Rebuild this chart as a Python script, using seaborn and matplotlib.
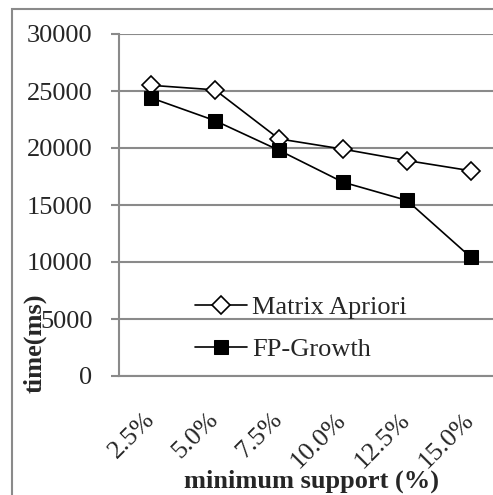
import matplotlib
matplotlib.use("Agg")
import matplotlib.pyplot as plt
import seaborn as sns
import pandas as pd
from matplotlib.patches import Rectangle

categories = ["2.5%", "5.0%", "7.5%", "10.0%", "12.5%", "15.0%"]
matrix_apriori = [25500, 25100, 20800, 19900, 18900, 18000]
fp_growth = [24400, 22400, 19800, 17000, 15400, 10400]
yticks = [0, 5000, 10000, 15000, 20000, 25000, 30000]

sns.set_theme(style="white")
plt.rcParams["font.family"] = ["Liberation Serif", "DejaVu Serif"]

W, H = 493, 495
fig = plt.figure(figsize=(W / 100, H / 100), dpi=100)
ax = fig.add_axes([119 / W, 1 - 376 / H, 384 / W, 342 / H])

grid_c = "#8a8a8a"
fs = 19

df = pd.DataFrame({
    "support": categories * 2,
    "time": matrix_apriori + fp_growth,
    "algo": ["Matrix Apriori"] * 6 + ["FP-Growth"] * 6,
})

sns.lineplot(data=df[df.algo == "Matrix Apriori"], x="support", y="time", ax=ax,
             color="black", lw=1.2, marker="D", markersize=9,
             markerfacecolor="white", markeredgecolor="black", markeredgewidth=1.2,
             label="Matrix Apriori", sort=False)
sns.lineplot(data=df[df.algo == "FP-Growth"], x="support", y="time", ax=ax,
             color="black", lw=1.2, marker="s", markersize=9.5,
             markerfacecolor="black", markeredgecolor="black",
             label="FP-Growth", sort=False)

ax.set_xlim(-0.5, 5.5)
ax.set_ylim(0, 30000)
ax.set_yticks(yticks)
ax.set_yticklabels([str(v) for v in yticks], fontsize=fs)
ax.grid(axis="y", color=grid_c, lw=1.5)
ax.set_axisbelow(True)
for s in ["top", "right"]:
    ax.spines[s].set_visible(False)
for s in ["left", "bottom"]:
    ax.spines[s].set_color(grid_c)
    ax.spines[s].set_linewidth(1.5)
ax.tick_params(axis="y", left=True, length=6, width=1.5, color=grid_c, pad=13)
ax.tick_params(axis="x", bottom=False, length=0, pad=29)
ax.set_xticks(range(len(categories)))
ax.set_xticklabels(categories, fontsize=fs, rotation=45, ha="right",
                   va="center", rotation_mode="anchor")
ax.set_xlabel("minimum support (%)", fontsize=fs, fontweight="bold", labelpad=-2)
ax.set_ylabel("")
fig.text(35 / W, 1 - 343 / H, "time(ms)", rotation=90, fontsize=fs,
         fontweight="bold", ha="center", va="center")

leg = ax.legend(loc="upper left", bbox_to_anchor=(195 / W, 1 - 296 / H),
                bbox_transform=fig.transFigure, frameon=False, fontsize=fs,
                handlelength=1.97, handletextpad=0.2, labelspacing=0.68,
                borderpad=0, borderaxespad=0)

fig.patches.append(Rectangle((12 / W, -0.1), 1.2, 1 - 9 / H + 0.1,
                             transform=fig.transFigure, fill=False,
                             edgecolor=grid_c, lw=1.5))

fig.savefig("out.png", dpi=100)
